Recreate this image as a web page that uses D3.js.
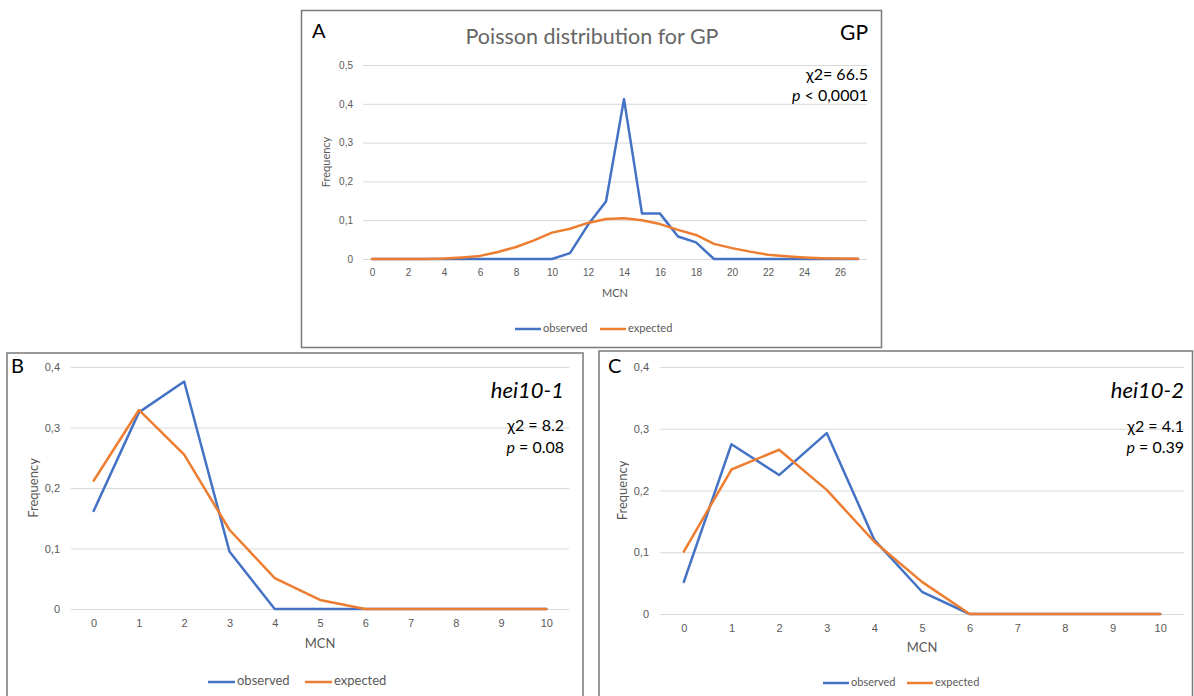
<!DOCTYPE html>
<html>
<head>
<meta charset="utf-8">
<script src="https://cdn.jsdelivr.net/npm/d3@7"></script>
<style>
  html, body { margin: 0; padding: 0; background: #fff; }
  svg { display: block; font-family: Lato, "Open Sans", sans-serif; }
</style>
</head>
<body>
<svg id="chart" width="1194" height="696"></svg>
<script>
// ---- data -------------------------------------------------------------
// Panel A: GP
const mcnA = [0,1,2,3,4,5,6,7,8,9,10,11,12,13,14,15,16,17,18,19,20,21,22,23,24,25,26,27];
const observedA = [0,0,0,0,0,0,0,0,0,0,0,0.015,0.088,0.148,0.412,0.117,0.117,0.058,0.043,0,0,0,0,0,0,0,0,0];
const expectedA = [0,0,0,0,0.001,0.004,0.008,0.018,0.031,0.048,0.068,0.078,0.093,0.103,0.105,0.100,0.090,0.075,0.062,0.039,0.028,0.019,0.011,0.007,0.004,0.002,0.001,0.0005];
const xTicksA = [0,2,4,6,8,10,12,14,16,18,20,22,24,26];
const yTicksA = [0,0.1,0.2,0.3,0.4,0.5];

// Panel B: hei10-1
const mcnB = [0,1,2,3,4,5,6,7,8,9,10];
const observedB = [0.162,0.325,0.376,0.095,0,0,0,0,0,0,0];
const expectedB = [0.212,0.329,0.255,0.131,0.051,0.015,0,0,0,0,0];
const yTicksB = [0,0.1,0.2,0.3,0.4];

// Panel C: hei10-2
const mcnC = [0,1,2,3,4,5,6,7,8,9,10];
const observedC = [0.052,0.275,0.225,0.293,0.120,0.036,0,0,0,0,0];
const expectedC = [0.101,0.234,0.266,0.201,0.117,0.052,0,0,0,0,0];
const yTicksC = [0,0.1,0.2,0.3,0.4];

const seriesNames = ["observed", "expected"];
const seriesColors = ["#4472C4", "#ED7D31"];

// ---- helpers ----------------------------------------------------------
const svg = d3.select("#chart");
const comma = d3.formatLocale({decimal: ",", thousands: ".", grouping: [3], currency: ["", ""]});
const fmtY = d => d === 0 ? "0" : comma.format(".1f")(d);
const GREY = "#595959";

function panel(cfg) {
  const g = svg.append("g");

  // frame
  g.append("rect")
    .attr("x", cfg.frame[0]).attr("y", cfg.frame[1])
    .attr("width", cfg.frame[2]).attr("height", cfg.frame[3])
    .attr("fill", "#fff").attr("stroke", "#7a7a7a").attr("stroke-width", 1.5);

  const x = d3.scalePoint().domain(cfg.mcn).range([cfg.left, cfg.right]).padding(0.5);
  const y = d3.scaleLinear().domain([0, d3.max(cfg.yTicks)]).range([cfg.bottom, cfg.top]);

  // gridlines + y tick labels
  const ya = g.append("g").attr("transform", `translate(${cfg.left},0)`)
    .call(d3.axisLeft(y).tickValues(cfg.yTicks).tickFormat(fmtY)
      .tickSize(-(cfg.right - cfg.left)).tickPadding(cfg.yPad));
  ya.select(".domain").remove();
  ya.selectAll(".tick line").attr("stroke", "#d9d9d9").attr("stroke-width", 1);
  ya.selectAll(".tick text").attr("fill", GREY).attr("font-size", cfg.tickSize).attr("font-family", null);

  // x tick labels
  const xa = g.append("g").attr("transform", `translate(0,${cfg.bottom})`)
    .call(d3.axisBottom(x).tickValues(cfg.xTicks).tickSize(0).tickPadding(cfg.xPad));
  xa.select(".domain").remove();
  xa.selectAll(".tick text").attr("fill", GREY).attr("font-size", cfg.tickSize).attr("font-family", null);

  // axis titles
  g.append("text").attr("x", (cfg.left + cfg.right) / 2).attr("y", cfg.mcnY)
    .attr("text-anchor", "middle").attr("dominant-baseline", "middle")
    .attr("fill", GREY).attr("font-size", cfg.axisTitleSize).text("MCN");
  g.append("text")
    .attr("transform", `translate(${cfg.freqX},${(cfg.top + cfg.bottom) / 2}) rotate(-90)`)
    .attr("text-anchor", "middle").attr("dominant-baseline", "middle")
    .attr("fill", GREY).attr("font-size", cfg.axisTitleSize).text("Frequency");

  // series lines
  const line = d3.line().x((d, i) => x(cfg.mcn[i])).y(d => y(d));
  [cfg.observed, cfg.expected].forEach((vals, k) => {
    g.append("path").datum(vals)
      .attr("d", line).attr("fill", "none")
      .attr("stroke", seriesColors[k]).attr("stroke-width", cfg.lineW)
      .attr("stroke-linejoin", "round").attr("stroke-linecap", "round");
  });

  // legend
  cfg.legendX.forEach((lx, k) => {
    g.append("line").attr("x1", lx).attr("x2", lx + cfg.legendLen)
      .attr("y1", cfg.legendY).attr("y2", cfg.legendY)
      .attr("stroke", seriesColors[k]).attr("stroke-width", cfg.lineW);
    g.append("text").attr("x", lx + cfg.legendLen + 2).attr("y", cfg.legendY)
      .attr("dominant-baseline", "middle").attr("fill", GREY)
      .attr("font-size", cfg.legendSize).text(seriesNames[k]);
  });

  // panel letter
  g.append("text").attr("x", cfg.letter[0]).attr("y", cfg.letter[1])
    .attr("font-size", 20).attr("fill", "#000").text(cfg.letter[2]);

  // genotype and statistics
  const r = cfg.statsRight;
  g.append("text").attr("x", r).attr("y", cfg.nameY).attr("text-anchor", "end")
    .attr("font-size", cfg.nameSize).attr("font-style", cfg.nameItalic ? "italic" : "normal")
    .attr("fill", "#000").text(cfg.name);
  g.append("text").attr("x", r).attr("y", cfg.chiY).attr("text-anchor", "end")
    .attr("font-size", cfg.statSize).attr("fill", "#000").text(cfg.chi);
  const pt = g.append("text").attr("x", r).attr("y", cfg.pY).attr("text-anchor", "end")
    .attr("font-size", cfg.statSize).attr("fill", "#000");
  pt.append("tspan").attr("font-style", "italic").text("p");
  pt.append("tspan").text(cfg.pText);

  return g;
}

// ---- panels -----------------------------------------------------------
const gA = panel({
  frame: [301.5, 10.5, 580, 337],
  mcn: mcnA, observed: observedA, expected: expectedA,
  xTicks: xTicksA, yTicks: yTicksA,
  left: 363, right: 867, top: 65, bottom: 259,
  yPad: 10, xPad: 10, tickSize: 10, axisTitleSize: 11,
  mcnY: 294, freqX: 327, lineW: 2.5,
  legendX: [515, 600], legendLen: 26, legendY: 329, legendSize: 11,
  letter: [312, 38, "A"],
  statsRight: 868, name: "GP", nameItalic: false, nameSize: 21, nameY: 40,
  chi: "\u03C72= 66.5", chiY: 80, pText: " < 0,0001", pY: 101, statSize: 16
});
gA.append("text").attr("x", 592).attr("y", 44).attr("text-anchor", "middle")
  .attr("font-size", 21.5).attr("fill", "#666").text("Poisson distribution for GP");

panel({
  frame: [7, 353, 576, 360],
  mcn: mcnB, observed: observedB, expected: expectedB,
  xTicks: mcnB, yTicks: yTicksB,
  left: 71, right: 569, top: 367, bottom: 609,
  yPad: 11, xPad: 10, tickSize: 11, axisTitleSize: 13,
  mcnY: 645, freqX: 35, lineW: 2.5,
  legendX: [208, 305], legendLen: 27, legendY: 682, legendSize: 13,
  letter: [11, 373, "B"],
  statsRight: 564, name: "hei10-1", nameItalic: true, nameSize: 22, nameY: 398,
  chi: "\u03C72 = 8.2", chiY: 431, pText: " = 0.08", pY: 453, statSize: 16
});

panel({
  frame: [599, 351, 593.5, 360],
  mcn: mcnC, observed: observedC, expected: expectedC,
  xTicks: mcnC, yTicks: yTicksC,
  left: 660, right: 1184, top: 367, bottom: 614,
  yPad: 11, xPad: 10, tickSize: 11, axisTitleSize: 13,
  mcnY: 649, freqX: 624, lineW: 2.5,
  legendX: [823, 907], legendLen: 26, legendY: 683, legendSize: 11,
  letter: [608, 373, "C"],
  statsRight: 1184, name: "hei10-2", nameItalic: true, nameSize: 22, nameY: 398,
  chi: "\u03C72 = 4.1", chiY: 432, pText: " = 0.39", pY: 453, statSize: 16
});
</script>
</body>
</html>
